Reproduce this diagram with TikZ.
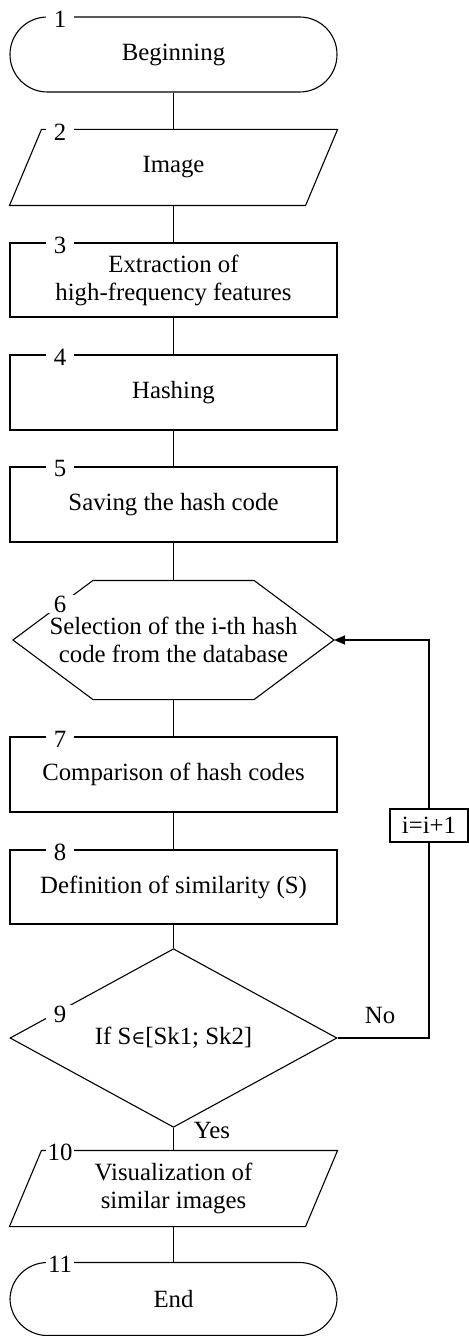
\documentclass[tikz,border=0pt]{standalone}
\usepackage{fontspec}
\setmainfont{Liberation Serif}
\newfontfamily\symfnt{DejaVu Serif}
\usetikzlibrary{arrows.meta,shapes.geometric,calc}
\begin{document}
\begin{tikzpicture}[x=0.5pt,y=-0.5pt,line width=0.55pt,
  every node/.style={font=\fontsize{12.4}{14}\selectfont},
  blk/.style={draw,minimum width=163.5pt,minimum height=37.5pt,inner sep=0pt,align=center},
  txt/.style={draw=none,minimum width=163.5pt,minimum height=37.5pt,inner sep=0pt,align=center},
  term/.style={blk,rounded corners=18.7pt},
  num/.style={fill=white,inner sep=0pt,minimum width=14pt,minimum height=9pt},
  lbl/.style={inner sep=0pt}
]
\useasboundingbox (0,0) rectangle (468,1336);

% 1
\node[term] (n1) at (173.5,54.5) {Beginning};
% 2
\node[txt] (n2) at (173.5,167.5) {Image};
\draw ($(n2.north west)+(16pt,0)$) -- (n2.north east) -- ($(n2.south east)+(-16pt,0)$) -- (n2.south west) -- cycle;
% 3
\node[blk,minimum height=37pt] (n3) at (173.5,280) {Extraction of\\high-frequency features};
% 4
\node[blk] (n4) at (173.5,392.5) {Hashing};
% 5
\node[blk] (n5) at (173.5,504.5) {Saving the hash code};
% 6
\node[txt,minimum width=160pt,minimum height=59pt] (n6) at (173.5,640) {Selection of the i-th hash\\code from the database};
\draw (n6.west) -- ($(n6.north west)+(40pt,0)$) -- ($(n6.north east)+(-40pt,0)$) -- (n6.east) -- ($(n6.south east)+(-40pt,0)$) -- ($(n6.south west)+(40pt,0)$) -- cycle;
% 7
\node[blk] (n7) at (173.5,774.5) {Comparison of hash codes};
% 8
\node[blk,minimum height=37pt] (n8) at (173.5,887) {Definition of similarity (S)};
% 9
\node[diamond,draw,minimum width=163.5pt,minimum height=75pt,inner sep=0pt] (n9) at (173.5,1038) {If S{\symfnt\fontsize{9.5}{12}\selectfont ∈}[Sk1; Sk2]};
% 10
\node[txt] (n10) at (173.5,1188.5) {Visualization of\\similar images};
\draw ($(n10.north west)+(16pt,0)$) -- (n10.north east) -- ($(n10.south east)+(-16pt,0)$) -- (n10.south west) -- cycle;
% 11
\node[term,minimum height=36.5pt] (n11) at (173.5,1299) {End};

% connectors
\draw (n1.south) -- (n2.north);
\draw (n2.south) -- (n3.north);
\draw (n3.south) -- (n4.north);
\draw (n4.south) -- (n5.north);
\draw (n5.south) -- (n6.north);
\draw (n6.south) -- (n7.north);
\draw (n7.south) -- (n8.north);
\draw (n8.south) -- (n9.north);
\draw (n9.south) -- (n10.north);
\draw (n10.south) -- (n11.north);

% loop
\node[draw,minimum width=39pt,minimum height=16.5pt,inner sep=0pt] (inc) at (429,825.5) {i=i+1};
\draw (n9.east) -| (inc.south);
\draw[-{Triangle[length=5.5pt,width=4.5pt]}] (inc.north) |- (n6.east);

\node[lbl] (no) at (380,1015) {No};
\node[lbl] (yes) at (212,1130) {Yes};

% numbers
\node[num] (k1) at (60,19.5) {1};
\node[num] (k2) at (60,132) {2};
\node[num] (k3) at (60,245) {3};
\node[num] (k4) at (60,357) {4};
\node[num] (k5) at (60,469) {5};
\node[num] (k6) at (60,604) {6};
\node[num] (k7) at (60,739) {7};
\node[num] (k8) at (60,852) {8};
\node[num] (k9) at (60,1014) {9};
\node[num] (k10) at (60,1152) {10};
\node[num] (k11) at (60,1264.5) {11};
\end{tikzpicture}
\end{document}
